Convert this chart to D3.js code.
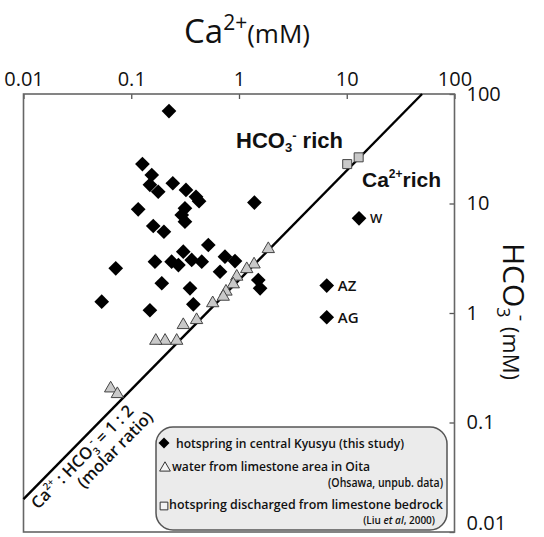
<!DOCTYPE html>
<html>
<head>
<meta charset="utf-8">
<script src="https://cdn.jsdelivr.net/npm/d3@7"></script>
<style>
body { margin: 0; background: #fff; }
svg { display: block; }
text { font-family: "Open Sans", sans-serif; fill: #111; }
</style>
</head>
<body>
<div id="chart"></div>
<script>
// log-log axes, both in mM
var tickValues = [0.01, 0.1, 1, 10, 100];
var tickLabels = ["0.01", "0.1", "1", "10", "100"];

// hotspring in central Kyusyu (this study) : [Ca2+, HCO3-]
var kyusyu = [
  [0.224, 69.9], [0.127, 22.9], [0.155, 18.2], [0.149, 14.8], [0.178, 12.8],
  [0.243, 15.3], [0.322, 13.3], [0.399, 11.5], [0.426, 10.5], [1.39, 10.2],
  [0.116, 8.85], [0.315, 9.04], [0.294, 7.85], [0.315, 6.82], [0.160, 6.23],
  [0.201, 5.52], [0.519, 4.18], [0.0718, 2.56], [0.166, 2.94], [0.237, 2.94],
  [0.274, 2.74], [0.304, 3.63], [0.364, 3.05], [0.451, 2.94], [0.741, 3.27],
  [0.918, 2.98], [0.667, 2.38], [0.192, 1.87], [0.351, 1.68], [0.377, 1.20],
  [0.149, 1.06], [0.0532, 1.27], [1.51, 2.00], [1.57, 1.68]
];
// the three springs that carry a name
var namedNames = ["W", "AZ", "AG"];
var namedCa = [13.0, 6.52, 6.52];
var namedHCO3 = [7.32, 1.78, 0.914];

// water from limestone area in Oita (Ohsawa, unpub. data)
var oita = [
  [1.87, 3.84], [1.38, 2.78], [1.18, 2.52], [0.953, 2.15], [0.885, 1.83],
  [0.757, 1.57], [0.714, 1.41], [0.570, 1.23], [0.404, 0.863], [0.304, 0.777],
  [0.264, 0.558], [0.206, 0.558], [0.169, 0.558], [0.0644, 0.205], [0.0743, 0.182]
];
// hotspring discharged from limestone bedrock (Liu et al, 2000)
var liu = [[10.1, 22.9], [12.9, 26.4]];

// Ca2+ : HCO3- = 1 : 2 line, Ca ends
var ratioCa = [0.01, 50];

var svg = d3.select("#chart").append("svg")
  .attr("width", 544)
  .attr("height", 537);

var x = d3.scaleLog().domain([0.01, 100]).range([23.5, 454.5]);
var y = d3.scaleLog().domain([0.01, 100]).range([532, 94]);

// axes (ticks point into the frame)
var xAxis = svg.append("g")
  .attr("transform", "translate(0," + y(100) + ")")
  .call(d3.axisTop(x).tickValues(tickValues)
    .tickFormat(function(d, i) { return tickLabels[i]; })
    .tickSizeInner(-5).tickSizeOuter(0).tickPadding(8));

var yAxis = svg.append("g")
  .attr("transform", "translate(" + x(100) + ",0)")
  .call(d3.axisRight(y).tickValues(tickValues)
    .tickFormat(function(d, i) { return tickLabels[i]; })
    .tickSizeInner(-5).tickSizeOuter(0).tickPadding(12));

svg.selectAll(".domain").remove();
svg.selectAll(".tick line").attr("stroke", "#555").attr("stroke-width", 1.3);
svg.selectAll(".tick text")
  .attr("font-family", "'Open Sans', sans-serif")
  .style("font-size", "20px")
  .attr("fill", "#111");
// lowest label sits inside the page
yAxis.selectAll(".tick text").filter(function(d) { return d == 0.01; })
  .attr("dy", "-0.15em");

// frame
svg.append("rect")
  .attr("x", x(0.01)).attr("y", y(100))
  .attr("width", x(100) - x(0.01))
  .attr("height", y(0.01) - y(100))
  .attr("fill", "none")
  .attr("stroke", "#666")
  .attr("stroke-width", 1.6);

// axis titles
var xTitle = svg.append("text").attr("x", 184).attr("y", 43);
xTitle.append("tspan").style("font-size", "33px").text("Ca");
xTitle.append("tspan").style("font-size", "21px").attr("dy", -13).text("2+");
xTitle.append("tspan").style("font-size", "26px").attr("dy", 13).text("(mM)");

var yTitle = svg.append("text").attr("transform", "translate(503,243) rotate(90)");
yTitle.append("tspan").style("font-size", "30px").text("HCO");
yTitle.append("tspan").style("font-size", "18px").attr("dy", 6).text("3");
yTitle.append("tspan").style("font-size", "20px").attr("dx", -3).attr("dy", -18).text("-");
yTitle.append("tspan").style("font-size", "22px").attr("dy", 12).text(" (mM)");

// 1:2 line
var line = d3.line()
  .x(function(d) { return x(d); })
  .y(function(d) { return y(2 * d); });

svg.append("path")
  .datum(ratioCa)
  .attr("d", line)
  .attr("fill", "none")
  .attr("stroke", "#000")
  .attr("stroke-width", 2.4);

var angle = Math.atan2(y(100) - y(0.02), x(50) - x(0.01)) * 180 / Math.PI;

var ratioText = svg.append("text")
  .attr("transform", "translate(38,510) rotate(" + angle + ")")
  .style("font-size", "16.5px").style("font-weight", 600);
ratioText.append("tspan").text("Ca");
ratioText.append("tspan").style("font-size", "10px").attr("dy", -7).text("2+");
ratioText.append("tspan").attr("dy", 7).text(" : HCO");
ratioText.append("tspan").style("font-size", "10px").attr("dy", 4).text("3");
ratioText.append("tspan").style("font-size", "11px").attr("dx", -2).attr("dy", -11).text("-");
ratioText.append("tspan").attr("dy", 7).text(" = 1 : 2");

svg.append("text")
  .attr("transform", "translate(84,489) rotate(" + angle + ")")
  .style("font-size", "16.5px").style("font-weight", 600)
  .text("(molar ratio)");

// region labels
var richA = svg.append("text").attr("x", 236).attr("y", 148)
  .style("font-family", "'Liberation Sans', Arial, sans-serif")
  .style("font-weight", "bold").style("font-size", "22px");
richA.append("tspan").text("HCO");
richA.append("tspan").style("font-size", "13px").attr("dy", 4).text("3");
richA.append("tspan").style("font-size", "13px").attr("dy", -12).text("-");
richA.append("tspan").attr("dy", 8).text(" rich");

var richB = svg.append("text").attr("x", 362).attr("y", 187)
  .style("font-family", "'Liberation Sans', Arial, sans-serif")
  .style("font-weight", "bold").style("font-size", "21px");
richB.append("tspan").text("Ca");
richB.append("tspan").style("font-size", "12px").attr("dy", -9).text("2+");
richB.append("tspan").attr("dy", 9).text("rich");

// markers
var diamond = d3.symbol().type(d3.symbolSquare).size(108);
var triangle = d3.symbol().type(d3.symbolTriangle).size(66);
var square = d3.symbol().type(d3.symbolSquare).size(81);

svg.append("g").selectAll("path")
  .data(oita)
  .enter().append("path")
  .attr("d", triangle)
  .attr("transform", function(d) { return "translate(" + x(d[0]) + "," + y(d[1]) + ")"; })
  .attr("fill", "#c9c9c9")
  .attr("stroke", "#444")
  .attr("stroke-width", 1);

svg.append("g").selectAll("path")
  .data(liu)
  .enter().append("path")
  .attr("d", square)
  .attr("transform", function(d) { return "translate(" + x(d[0]) + "," + y(d[1]) + ")"; })
  .attr("fill", "#c9c9c9")
  .attr("stroke", "#444")
  .attr("stroke-width", 1);

svg.append("g").selectAll("path")
  .data(kyusyu)
  .enter().append("path")
  .attr("d", diamond)
  .attr("transform", function(d) { return "translate(" + x(d[0]) + "," + y(d[1]) + ") rotate(45)"; })
  .attr("fill", "#000");

var named = svg.append("g").selectAll("g")
  .data(namedNames)
  .enter().append("g")
  .attr("transform", function(d, i) { return "translate(" + x(namedCa[i]) + "," + y(namedHCO3[i]) + ")"; });
named.append("path")
  .attr("d", diamond)
  .attr("transform", "rotate(45)")
  .attr("fill", "#000");
named.append("text")
  .attr("x", 11)
  .attr("dy", "0.35em")
  .style("font-size", function(d) { return d == "W" ? "13px" : "15px"; })
  .style("font-weight", 600)
  .text(function(d) { return d; });

// legend
var legend = svg.append("g");
legend.append("rect")
  .attr("x", 156).attr("y", 427)
  .attr("width", 291).attr("height", 103)
  .attr("rx", 17)
  .attr("fill", "#ebebeb")
  .attr("stroke", "#555")
  .attr("stroke-width", 1.5);

legend.append("path")
  .attr("d", d3.symbol().type(d3.symbolSquare).size(60))
  .attr("transform", "translate(164,443) rotate(45)")
  .attr("fill", "#000");
legend.append("path")
  .attr("d", d3.symbol().type(d3.symbolTriangle).size(50))
  .attr("transform", "translate(165,468)")
  .attr("fill", "#f4f4f4").attr("stroke", "#333");
legend.append("path")
  .attr("d", d3.symbol().type(d3.symbolSquare).size(60))
  .attr("transform", "translate(164,506)")
  .attr("fill", "#f4f4f4").attr("stroke", "#333");

var legendRows = [
  {t: "hotspring in central Kyusyu (this study)", x: 176, y: 448, w: 228, a: "start", s: 13},
  {t: "water from limestone area  in Oita", x: 172, y: 471, w: 198, a: "start", s: 13},
  {t: "(Ohsawa, unpub. data)", x: 443, y: 487, w: 115, a: "end", s: 12},
  {t: "hotspring discharged from limestone bedrock", x: 169, y: 509, w: 274, a: "start", s: 13}
];
legend.selectAll("text.row")
  .data(legendRows)
  .enter().append("text")
  .attr("class", "row")
  .attr("x", function(d) { return d.x; })
  .attr("y", function(d) { return d.y; })
  .attr("text-anchor", function(d) { return d.a; })
  .attr("textLength", function(d) { return d.w; })
  .attr("lengthAdjust", "spacingAndGlyphs")
  .style("font-size", function(d) { return d.s + "px"; })
  .style("font-weight", 600)
  .text(function(d) { return d.t; });

var cite = legend.append("text")
  .attr("x", 435).attr("y", 524)
  .attr("text-anchor", "end")
  .style("font-size", "10px").style("font-weight", 600);
cite.append("tspan").text("(Liu ");
cite.append("tspan").style("font-style", "italic").text("et al");
cite.append("tspan").text(", 2000)");
</script>
</body>
</html>
